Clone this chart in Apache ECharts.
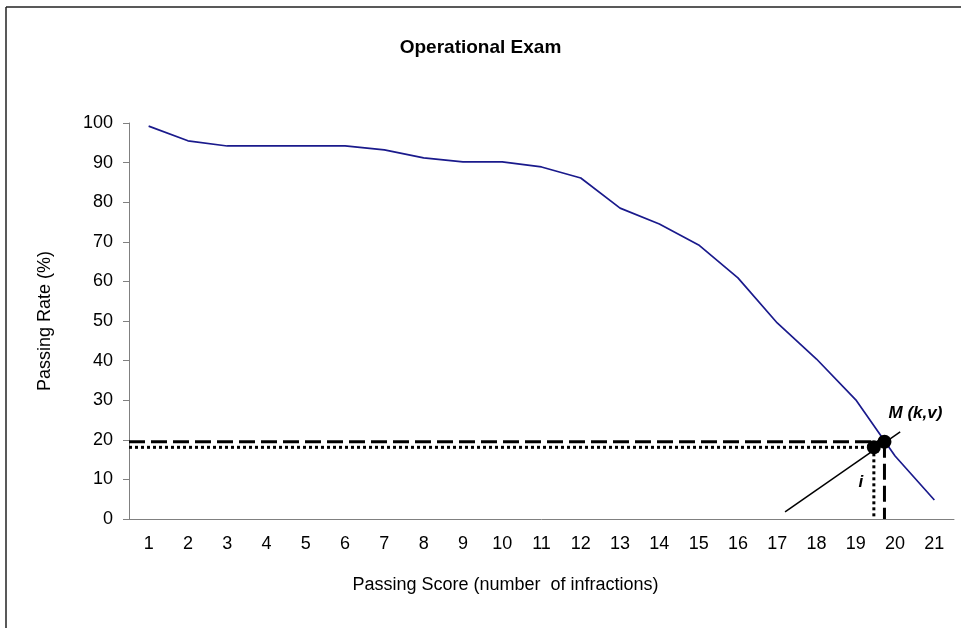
<!DOCTYPE html>
<html lang="en">
<head>
    <meta charset="UTF-8">
    <title>Operational Exam</title>
    <script src="https://cdn.jsdelivr.net/npm/echarts@6/dist/echarts.min.js"></script>
    <style>
        body { margin: 0; padding: 0; background: #fff; }
        #chart { width: 961px; height: 628px; }
    </style>
</head>
<body>
    <div id="chart"></div>
    <script>
        // passing score (number of infractions) and passing rate (%)
        const scores = ['1', '2', '3', '4', '5', '6', '7', '8', '9', '10', '11',
                        '12', '13', '14', '15', '16', '17', '18', '19', '20', '21'];
        const rates = [99.2, 95.5, 94.2, 94.2, 94.2, 94.2, 93.2, 91.2, 90.2, 90.2, 88.9,
                       86.1, 78.5, 74.5, 69.2, 60.9, 49.5, 40.4, 30.1, 15.9, 4.8];

        // annotation points on the continuous score scale
        const pointM = [19.73, 19.5];
        const pointI = [19.46, 18.1];
        const slopeLine = [[17.2, 1.8], [20.13, 22.0]];

        const font = 'Liberation Sans, Arial, sans-serif';
        const chart = echarts.init(document.getElementById('chart'));

        const option = {
            animation: false,
            title: {
                text: 'Operational Exam',
                left: 'center',
                top: 33,
                textStyle: { fontFamily: font, fontSize: 19, fontWeight: 'bold', color: '#000' }
            },
            graphic: [
                { type: 'line', shape: { x1: 6, y1: 7, x2: 961, y2: 7 }, style: { stroke: '#222', lineWidth: 1.5 } },
                { type: 'line', shape: { x1: 6, y1: 7, x2: 6, y2: 628 }, style: { stroke: '#222', lineWidth: 1.5 } }
            ],
            grid: { left: 129, right: 7, top: 123, bottom: 109 },
            xAxis: [
                {
                    type: 'category',
                    data: scores,
                    boundaryGap: true,
                    name: 'Passing Score (number  of infractions)',
                    nameLocation: 'middle',
                    nameGap: 57,
                    nameTextStyle: { fontFamily: font, fontSize: 18, color: '#000', padding: [0, 72, 0, 0] },
                    axisLine: { lineStyle: { color: '#808080', width: 1 } },
                    axisTick: { length: 6, lineStyle: { color: '#808080' } },
                    axisLabel: { fontFamily: font, fontSize: 18, color: '#000', margin: 16 }
                },
                {
                    type: 'value',
                    min: 0.5,
                    max: 21.5,
                    show: false
                }
            ],
            yAxis: {
                type: 'value',
                min: 0,
                max: 100,
                interval: 10,
                name: 'Passing Rate (%)',
                nameLocation: 'middle',
                nameGap: 75,
                nameTextStyle: { fontFamily: font, fontSize: 18, color: '#000' },
                axisLine: { show: true, lineStyle: { color: '#808080', width: 1 } },
                axisTick: { show: true, length: 6, lineStyle: { color: '#808080' } },
                axisLabel: { fontFamily: font, fontSize: 18, color: '#000', margin: 16 },
                splitLine: { show: false }
            },
            series: [
                {
                    type: 'line',
                    data: rates,
                    symbol: 'none',
                    lineStyle: { color: '#1a1a8c', width: 1.7 }
                },
                {
                    // horizontal dashed line to M
                    type: 'line',
                    xAxisIndex: 1,
                    data: [[0.5, pointM[1]], pointM],
                    symbol: 'none',
                    lineStyle: { color: '#000', width: 3, type: [16, 6] }
                },
                {
                    // vertical dashed line from M
                    type: 'line',
                    xAxisIndex: 1,
                    data: [pointM, [pointM[0], 0]],
                    symbol: 'none',
                    lineStyle: { color: '#000', width: 3, type: [16, 6] }
                },
                {
                    // horizontal dotted line to i
                    type: 'line',
                    xAxisIndex: 1,
                    data: [[0.5, pointI[1]], pointI],
                    symbol: 'none',
                    lineStyle: { color: '#000', width: 3, type: [3, 3] }
                },
                {
                    // vertical dotted line from i
                    type: 'line',
                    xAxisIndex: 1,
                    data: [pointI, [pointI[0], 0]],
                    symbol: 'none',
                    lineStyle: { color: '#000', width: 3, type: [3, 3] }
                },
                {
                    type: 'line',
                    xAxisIndex: 1,
                    data: slopeLine,
                    symbol: 'none',
                    lineStyle: { color: '#000', width: 1.5 }
                },
                {
                    type: 'scatter',
                    xAxisIndex: 1,
                    symbolSize: 14,
                    z: 10,
                    itemStyle: { color: '#000', opacity: 1 },
                    data: [
                        {
                            value: pointM,
                            label: {
                                show: true, formatter: 'M (k,v)', position: 'top', offset: [31, -8],
                                fontFamily: font, fontSize: 17, fontWeight: 'bold', fontStyle: 'italic', color: '#000'
                            }
                        },
                        {
                            value: pointI,
                            label: {
                                show: true, formatter: 'i', position: 'bottom', offset: [-13, 14],
                                fontFamily: font, fontSize: 17, fontWeight: 'bold', fontStyle: 'italic', color: '#000'
                            }
                        }
                    ]
                }
            ]
        };

        chart.setOption(option);
    </script>
</body>
</html>
